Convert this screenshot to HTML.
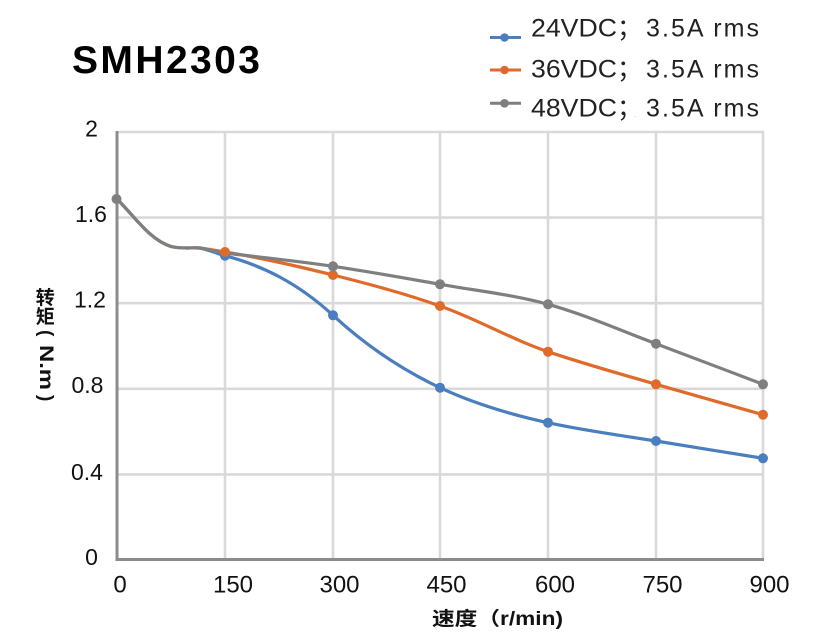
<!DOCTYPE html>
<html><head><meta charset="utf-8"><style>
html,body{margin:0;padding:0;background:#fff;}
svg{display:block;}
</style></head><body>
<svg width="831" height="640" viewBox="0 0 831 640" xmlns="http://www.w3.org/2000/svg">
<rect width="831" height="640" fill="#fff"/>
<!-- title -->
<text x="72" y="73" font-family="Liberation Sans, sans-serif" font-weight="bold" font-size="39" fill="#000" textLength="188" lengthAdjust="spacing">SMH2303</text>
<!-- legend -->
<g font-family="Liberation Sans, 'Noto Sans CJK SC', sans-serif" font-size="25" fill="#222">
<line x1="490" y1="37.5" x2="521" y2="37.5" stroke="#4a7ebf" stroke-width="3"/>
<circle cx="504.5" cy="37.5" r="4.3" fill="#4a7ebf"/>
<text x="531" y="36.7" textLength="86" lengthAdjust="spacingAndGlyphs">24VDC</text>
<text x="617" y="36.7">；</text>
<text x="646" y="36.7" textLength="113" lengthAdjust="spacing">3.5A rms</text>
<line x1="490" y1="70" x2="521" y2="70" stroke="#e06a2a" stroke-width="3"/>
<circle cx="504.5" cy="70" r="4.3" fill="#e06a2a"/>
<text x="531" y="77.3" textLength="86" lengthAdjust="spacingAndGlyphs">36VDC</text>
<text x="617" y="77.3">；</text>
<text x="646" y="77.3" textLength="113" lengthAdjust="spacing">3.5A rms</text>
<line x1="490" y1="103.3" x2="521" y2="103.3" stroke="#7f7f80" stroke-width="3"/>
<circle cx="504.5" cy="103.3" r="4.3" fill="#7f7f80"/>
<text x="531" y="116.7" textLength="86" lengthAdjust="spacingAndGlyphs">48VDC</text>
<text x="617" y="116.7">；</text>
<text x="634.5" y="117" font-size="8" fill="#bbb">.</text>
<text x="646" y="116.7" textLength="113" lengthAdjust="spacing">3.5A rms</text>
</g>
<!-- gridlines -->
<g stroke="#d9d9d9" stroke-width="2.6">
<line x1="117" y1="132" x2="764" y2="132"/>
<line x1="117" y1="217.6" x2="764" y2="217.6"/>
<line x1="117" y1="303.2" x2="764" y2="303.2"/>
<line x1="117" y1="388.8" x2="764" y2="388.8"/>
<line x1="117" y1="474.4" x2="764" y2="474.4"/>
<line x1="225" y1="131" x2="225" y2="560"/>
<line x1="333" y1="131" x2="333" y2="560"/>
<line x1="440" y1="131" x2="440" y2="560"/>
<line x1="548" y1="131" x2="548" y2="560"/>
<line x1="656" y1="131" x2="656" y2="560"/>
<line x1="763" y1="131" x2="763" y2="560"/>
</g>
<!-- axes -->
<line x1="117" y1="131" x2="117" y2="561" stroke="#8c8c8f" stroke-width="3"/>
<line x1="115.5" y1="559.5" x2="764" y2="559.5" stroke="#8c8c8f" stroke-width="3"/>
<!-- y ticks -->
<g font-family="Liberation Sans, sans-serif" font-size="23" fill="#111" text-anchor="middle">
<text x="91.5" y="136.5">2</text>
<text x="91" y="222">1.6</text>
<text x="90" y="307.5">1.2</text>
<text x="87.5" y="393">0.8</text>
<text x="87" y="480">0.4</text>
<text x="91.5" y="565">0</text>
</g>
<!-- x ticks -->
<g font-family="Liberation Sans, sans-serif" font-size="24" fill="#111" text-anchor="middle">
<text x="120" y="592.5">0</text>
<text x="233" y="592.5">150</text>
<text x="339.5" y="592.5">300</text>
<text x="446.5" y="592.5">450</text>
<text x="555" y="592.5">600</text>
<text x="662.5" y="592.5">750</text>
<text x="769.5" y="592.5">900</text>
</g>
<!-- axis titles -->
<text x="432" y="625" font-family="Liberation Sans, 'Noto Sans CJK SC', sans-serif" font-weight="bold" font-size="19" fill="#111" textLength="131" lengthAdjust="spacingAndGlyphs">速度（r/min)</text>
<g font-family="'Noto Sans CJK SC', 'WenQuanYi Zen Hei', sans-serif" font-weight="bold" font-size="19" fill="#111" text-anchor="middle">
<text x="45.3" y="304">转</text>
<text x="45.3" y="323">矩</text>
</g>
<g font-family="Liberation Sans, sans-serif" font-weight="bold" font-size="19" fill="#111" dominant-baseline="central">
<text transform="translate(45.5,330) rotate(90)" x="0" y="0">(</text>
<text transform="translate(45.5,345) rotate(90)" x="0" y="0" textLength="45" lengthAdjust="spacingAndGlyphs">N.m</text>
<text transform="translate(45.5,395) rotate(90)" x="0" y="0">)</text>
</g>
<!-- series -->
<g fill="none" stroke-width="3.2" stroke-linecap="round" stroke-linejoin="round">
<path stroke="#4a7ebf" d="M117,199 C135,217 150,240 171,246.5 C181,249 190,247.5 200,248 C208,249.5 216.7,253.5 225,255.7 C261,265.1 297,282.2 333,315.3 C368.67,348.1 404.33,370.9 440,387.7 C476,404.6 512,414.8 548,422.7 C584,430.6 620,435.2 656,441 C691.67,446.7 727.33,452.6 763,458.3"/>
<path stroke="#e06a2a" d="M117,199 C135,217 150,240 171,246.5 C181,249 190,247.5 200,248 C208,249 216.7,250.7 225,252 C261,257.8 297,266 333,275 C368.67,284 404.33,293.3 440,306 C476,318.6 512,339.5 548,351.7 C584,363.9 620,373.8 656,384.3 C691.67,394.75 727.33,404.7 763,414.7"/>
<path stroke="#7f7f80" d="M117,199 C135,217 150,240 171,246.5 C181,249 190,247.5 200,248 C208,249 216.7,252 225,253 C261,257.3 297,261 333,266.3 C368.67,271.5 404.33,278 440,284.3 C476,290.7 512,294.4 548,304.3 C584,314.2 620,330.3 656,343.7 C691.67,357 727.33,370.75 763,384.3"/>
</g>
<!-- markers -->
<g fill="#4a7ebf">
<circle cx="225" cy="255.7" r="5"/><circle cx="333" cy="315.3" r="5"/><circle cx="440" cy="387.7" r="5"/><circle cx="548" cy="422.7" r="5"/><circle cx="656" cy="441" r="5"/><circle cx="763" cy="458.3" r="5"/>
</g>
<g fill="#e06a2a">
<circle cx="225" cy="252" r="5"/><circle cx="333" cy="275" r="5"/><circle cx="440" cy="306" r="5"/><circle cx="548" cy="351.7" r="5"/><circle cx="656" cy="384.3" r="5"/><circle cx="763" cy="414.7" r="5"/>
</g>
<g fill="#7f7f80">
<circle cx="116.5" cy="199" r="5"/><circle cx="333" cy="266.3" r="5"/><circle cx="440" cy="284.3" r="5"/><circle cx="548" cy="304.3" r="5"/><circle cx="656" cy="343.7" r="5"/><circle cx="763" cy="384.3" r="5"/>
</g>
</svg>
</body></html>
